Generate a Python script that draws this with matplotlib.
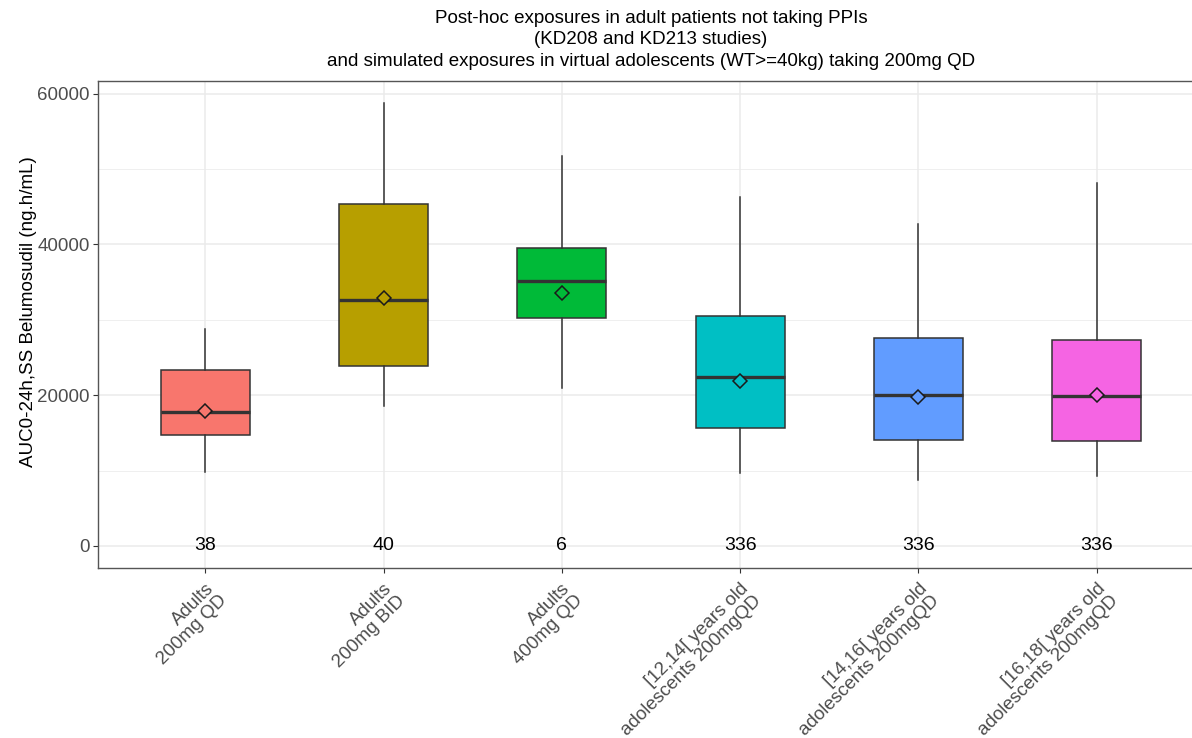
import matplotlib
matplotlib.use("Agg")
import matplotlib.pyplot as plt
from matplotlib.ticker import MultipleLocator

plt.rcParams["font.family"] = ["Liberation Sans", "DejaVu Sans"]

# Summary statistics of AUC0-24h,SS per group
groups = [
    "Adults\n200mg QD",
    "Adults\n200mg BID",
    "Adults\n400mg QD",
    "[12,14[ years old\nadolescents 200mgQD",
    "[14,16[ years old\nadolescents 200mgQD",
    "[16,18[ years old\nadolescents 200mgQD",
]
whisker_low = [9800, 18600, 21000, 9700, 8800, 9250]
q1 = [14700, 23900, 30200, 15700, 14100, 13900]
median = [17750, 32600, 35100, 22350, 20000, 19850]
q3 = [23300, 45400, 39500, 30500, 27550, 27350]
whisker_high = [28750, 58800, 51700, 46350, 42700, 48100]
means = [17900, 32950, 33600, 21850, 19800, 20000]
counts = [38, 40, 6, 336, 336, 336]
fill_colors = ["#F8766D", "#B79F00", "#00BA38", "#00BFC4", "#619CFF", "#F564E3"]

title = ("Post-hoc exposures in adult patients not taking PPIs\n"
         "(KD208 and KD213 studies)\n"
         "and simulated exposures in virtual adolescents (WT>=40kg) taking 200mg QD")
ylabel = "AUC0-24h,SS Belumosudil (ng.h/mL)"

W, H = 1192, 738
fig = plt.figure(figsize=(W / 100, H / 100), dpi=100)
fig.patch.set_facecolor("white")

left, right, top, bottom = 98.3, 1203.6, 80.7, 568.0
ax = fig.add_axes([left / W, 1 - bottom / H, (right - left) / W, (bottom - top) / H])

positions = list(range(len(groups)))
stats = []
for i in positions:
    stats.append(dict(med=median[i], q1=q1[i], q3=q3[i],
                      whislo=whisker_low[i], whishi=whisker_high[i],
                      mean=means[i], fliers=[], label=groups[i]))

edge = "#333333"
parts = ax.bxp(stats, positions=positions, widths=0.5, patch_artist=True,
               showmeans=True, showcaps=False, showfliers=False,
               boxprops=dict(edgecolor=edge, linewidth=1.1),
               whiskerprops=dict(color=edge, linewidth=1.1),
               medianprops=dict(color=edge, linewidth=2.4, solid_capstyle="butt"),
               meanprops=dict(marker="D", markersize=7.5, markeredgewidth=1.1,
                              markeredgecolor="#1a1a1a"),
               zorder=3)
for patch, col in zip(parts["boxes"], fill_colors):
    patch.set_facecolor(col)
for mk, col in zip(parts["means"], fill_colors):
    mk.set_markerfacecolor(col)
    mk.set_zorder(4)

# group sizes written at y = 0
for x, n in zip(positions, counts):
    ax.text(x, 0, str(n), ha="center", va="center", fontsize=14, color="black", zorder=5)

lo = min(0, min(whisker_low))
hi = max(whisker_high)
pad = 0.05 * (hi - lo)
ax.set_ylim(lo - pad, hi + pad)
ax.set_xlim(-0.6, len(groups) - 1 + 0.6)

ax.yaxis.set_major_locator(MultipleLocator(20000))
ax.yaxis.set_minor_locator(MultipleLocator(10000))
ax.set_xticks(positions)
ax.set_xticklabels(groups, rotation=45, ha="right", va="top",
                   rotation_mode="anchor", multialignment="right",
                   linespacing=1.05)
ax.grid(which="major", color="#EBEBEB", linewidth=1.1, zorder=0)
ax.grid(which="minor", axis="y", color="#EBEBEB", linewidth=0.55, zorder=0)
ax.set_axisbelow(True)

ax.tick_params(axis="both", which="major", length=3.5, width=0.8, color=edge,
               labelcolor="#4D4D4D")
ax.tick_params(axis="y", which="major", labelsize=13.5, pad=2.5)
ax.tick_params(axis="x", which="major", labelsize=13.5, pad=5)
ax.tick_params(axis="y", which="minor", length=0)
for sp in ax.spines.values():
    sp.set_color("#555555")
    sp.set_linewidth(1.0)

ax.set_ylabel(ylabel, fontsize=13.5, color="black", labelpad=0)
ax.yaxis.label.set_y((bottom - 312) / (bottom - top))

fig.text(651 / W, 1 - 40 / H, title, ha="center", va="center",
         fontsize=13.5, color="black", linespacing=1.33)

fig.savefig("out.png", dpi=100, facecolor="white")
